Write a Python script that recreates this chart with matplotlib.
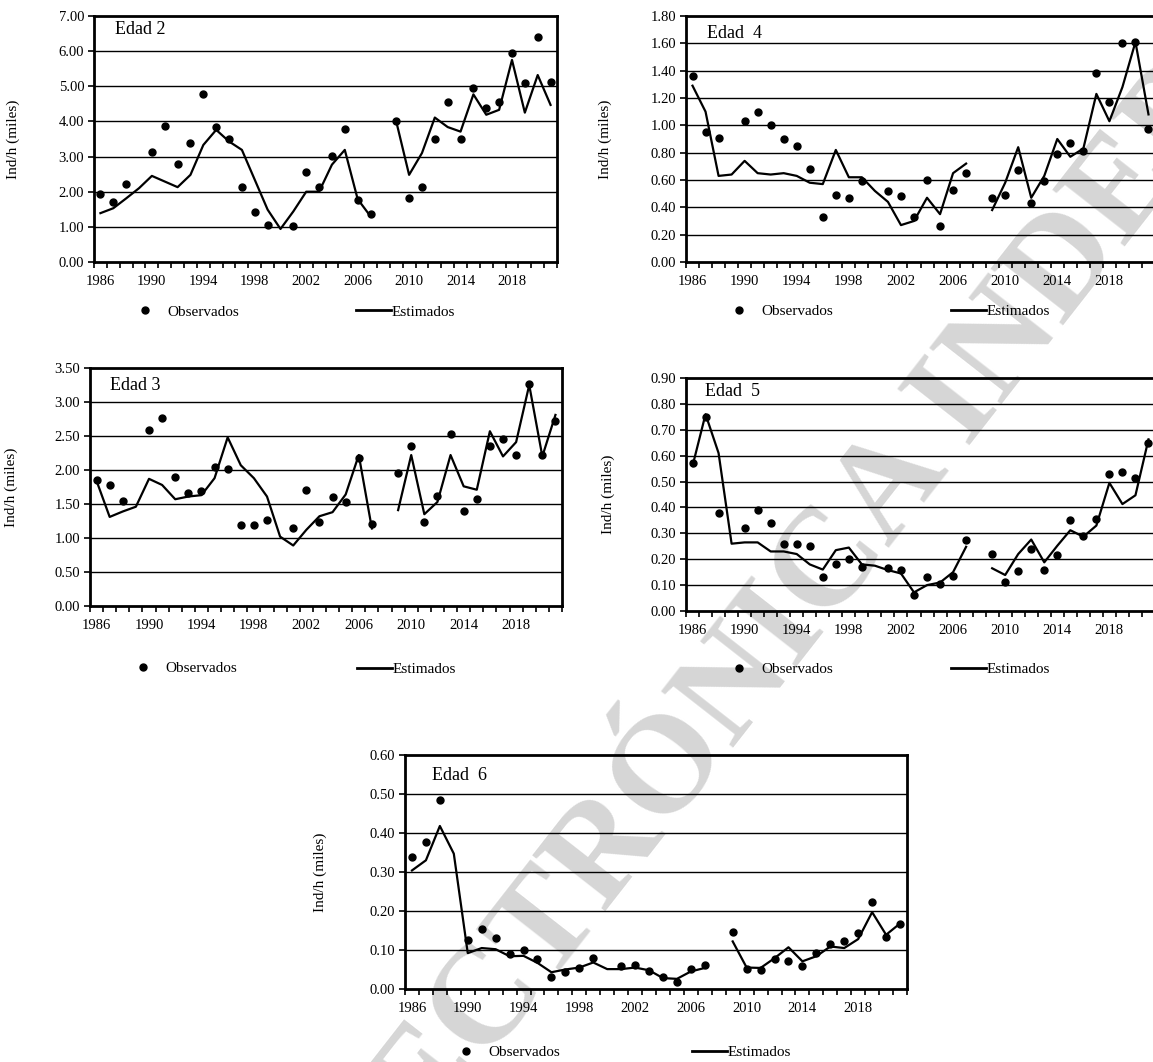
import numpy as np
import matplotlib
matplotlib.use("Agg")
import matplotlib.pyplot as plt
from matplotlib.lines import Line2D

plt.rcParams['font.family'] = ['Liberation Serif', 'DejaVu Serif']

nan = np.nan
years = list(range(1986, 2022))
tick_years = [1986, 1990, 1994, 1998, 2002, 2006, 2010, 2014, 2018]

obs_edad2 = [1.94, 1.72, 2.21, nan, 3.14, 3.88, 2.79, 3.39, 4.77, 3.85, 3.49, 2.12, 1.43, 1.04, nan,
             1.03, 2.56, 2.13, 3.01, 3.78, 1.76, 1.38, nan, 4.02, 1.81, 2.12, 3.51, 4.54, 3.51, 4.94,
             4.37, 4.55, 5.96, 5.10, 6.41, 5.11]
est_edad2 = [1.39, 1.53, 1.81, 2.10, 2.45, 2.29, 2.13, 2.48, 3.33, 3.76, 3.43, 3.19, 2.34, 1.49, 0.94,
             1.44, 2.00, 2.00, 2.77, 3.19, 1.79, 1.30, nan, 4.00, 2.48, 3.10, 4.11, 3.84, 3.71, 4.77,
             4.19, 4.33, 5.75, 4.25, 5.32, 4.47]

obs_edad4 = [1.36, 0.95, 0.91, nan, 1.03, 1.10, 1.00, 0.90, 0.85, 0.68, 0.33, 0.49, 0.47, 0.59, nan,
             0.52, 0.48, 0.33, 0.60, 0.26, 0.53, 0.65, nan, 0.47, 0.49, 0.67, 0.43, 0.59, 0.79, 0.87,
             0.81, 1.38, 1.17, 1.60, 1.61, 0.97]
est_edad4 = [1.29, 1.10, 0.63, 0.64, 0.74, 0.65, 0.64, 0.65, 0.63, 0.58, 0.57, 0.82, 0.62, 0.62, 0.52,
             0.44, 0.27, 0.30, 0.47, 0.35, 0.65, 0.72, nan, 0.38, 0.58, 0.84, 0.47, 0.63, 0.90, 0.77,
             0.83, 1.23, 1.03, 1.28, 1.61, 1.08]

obs_edad3 = [1.85, 1.78, 1.54, nan, 2.59, 2.76, 1.89, 1.66, 1.69, 2.04, 2.01, 1.19, 1.19, 1.27, nan,
             1.14, 1.70, 1.24, 1.61, 1.53, 2.17, 1.20, nan, 1.96, 2.35, 1.24, 1.62, 2.53, 1.40, 1.58,
             2.36, 2.46, 2.22, 3.27, 2.22, 2.72]
est_edad3 = [1.84, 1.31, 1.39, 1.46, 1.87, 1.78, 1.57, 1.61, 1.63, 1.88, 2.48, 2.07, 1.88, 1.61, 1.02,
             0.89, 1.12, 1.32, 1.38, 1.64, 2.22, 1.14, nan, 1.41, 2.22, 1.35, 1.53, 2.22, 1.76, 1.71,
             2.57, 2.20, 2.41, 3.25, 2.20, 2.81]

obs_edad5 = [0.57, 0.75, 0.38, nan, 0.32, 0.39, 0.34, 0.26, 0.26, 0.25, 0.13, 0.18, 0.20, 0.17, nan,
             0.167, 0.158, 0.06, 0.13, 0.105, 0.134, 0.276, nan, 0.222, 0.113, 0.154, 0.238, 0.158,
             0.216, 0.351, 0.29, 0.357, 0.53, 0.536, 0.513, 0.65]
est_edad5 = [0.56, 0.76, 0.61, 0.26, 0.265, 0.265, 0.23, 0.23, 0.22, 0.18, 0.16, 0.235, 0.245, 0.18,
             0.175, 0.158, 0.145, 0.072, 0.10, 0.11, 0.15, 0.248, nan, 0.165, 0.139, 0.22, 0.276,
             0.188, 0.252, 0.312, 0.287, 0.33, 0.495, 0.413, 0.447, 0.663]

obs_edad6 = [0.338, 0.376, 0.485, nan, 0.125, 0.154, 0.132, 0.09, 0.099, 0.077, 0.032, 0.043, 0.054,
             0.079, nan, 0.058, 0.061, 0.045, 0.031, 0.019, 0.051, 0.061, nan, 0.147, 0.051, 0.048,
             0.077, 0.073, 0.06, 0.092, 0.115, 0.122, 0.143, 0.222, 0.133, 0.167]
est_edad6 = [0.304, 0.33, 0.418, 0.347, 0.092, 0.105, 0.102, 0.084, 0.085, 0.067, 0.043, 0.05, 0.055,
             0.068, 0.051, 0.051, 0.055, 0.048, 0.028, 0.026, 0.045, 0.054, nan, 0.122, 0.055, 0.054,
             0.079, 0.107, 0.071, 0.084, 0.109, 0.105, 0.128, 0.197, 0.139, 0.168]

W, H = 1153, 1062
fig = plt.figure(figsize=(W / 100, H / 100), dpi=100)


def fx(px):
    return px / W


def fy(py):
    return 1 - py / H


# watermark (partly outside the page, as in the reference)
fig.text(fx(747), fy(676), "ELECTRÓNICA INDEP", rotation=52, rotation_mode='anchor',
         ha='center', va='center', fontsize=100, fontweight='bold', color='#d6d6d6', zorder=-5)

panels = [
    # title, obs, est, ymax, ystep, box [l, t, r, b], ylabel_x, title offset, obs legend (x,y), est legend (x,y)
    ("Edad 2", obs_edad2, est_edad2, 7.0, 1.0, [94, 16, 557, 262], 20, (21, 14), (145, 312), (356, 312)),
    ("Edad  4", obs_edad4, est_edad4, 1.8, 0.2, [686, 16, 1155, 262], 612, (21, 17), (739, 311), (951, 311)),
    ("Edad 3", obs_edad3, est_edad3, 3.5, 0.5, [90, 368, 562, 606], 18, (20, 17), (143, 668), (357, 669)),
    ("Edad  5", obs_edad5, est_edad5, 0.9, 0.1, [686, 378, 1155, 611], 615, (19, 14), (739, 669), (951, 669)),
    ("Edad  6", obs_edad6, est_edad6, 0.6, 0.1, [405, 755, 907, 989], 327, (27, 21), (466, 1052), (692, 1052)),
]

fs = 11
for title, obs, est, ymax, ystep, box, ylx, toff, oleg, eleg in panels:
    l, t, r, b = box
    ax = fig.add_axes([fx(l), fy(b), (r - l) / W, (b - t) / H])
    ax.set_facecolor('none')
    ax.plot(years, est, color='black', lw=1.6, zorder=3)
    ax.plot(years, obs, ls='none', marker='o', ms=5, color='black', zorder=4)
    ax.set_xlim(1985.5, 2021.5)
    ax.set_ylim(0, ymax)
    yt = np.arange(0, ymax + ystep / 2, ystep)
    ax.set_yticks(yt)
    ax.set_yticklabels([f"{v:.2f}" for v in yt])
    for v in yt[1:-1]:
        ax.axhline(v, color='black', lw=1.0, zorder=1)
    ax.set_xticks(tick_years)
    ax.set_xticklabels([str(y) for y in tick_years])
    ax.set_xticks(np.arange(1985.5, 2022, 1.0), minor=True)
    ax.tick_params(axis='x', which='major', length=0, pad=9.5, labelsize=10.5, colors='black')
    ax.tick_params(axis='x', which='minor', length=4, width=1.2, direction='out')
    ax.tick_params(axis='y', which='major', length=4, width=1.2, direction='out', pad=3, labelsize=10.5)
    for s in ax.spines.values():
        s.set_linewidth(2.0)
        s.set_color('black')
    ax.set_ylabel("Ind/h (miles)", fontsize=fs)
    ax.yaxis.set_label_coords((ylx - l) / (r - l), 0.5)
    ax.text(toff[0] / (r - l), 1 - toff[1] / (b - t), title, transform=ax.transAxes,
            ha='left', va='center', fontsize=13)

    h_obs = Line2D([], [], ls='none', marker='o', ms=5, color='black')
    h_est = Line2D([], [], color='black', lw=2.0)
    em = fs * 100 / 72
    fig.legend([h_obs], ["Observados"], loc='center left',
               bbox_to_anchor=(fx(oleg[0] - 0.5 * em), fy(oleg[1])),
               frameon=False, fontsize=fs, handlelength=1.0, handletextpad=0.94,
               borderpad=0, borderaxespad=0)
    fig.legend([h_est], ["Estimados"], loc='center left',
               bbox_to_anchor=(fx(eleg[0]), fy(eleg[1])),
               frameon=False, fontsize=fs, handlelength=2.3, handletextpad=0.05,
               borderpad=0, borderaxespad=0)

fig.savefig("out.png", dpi=100)
